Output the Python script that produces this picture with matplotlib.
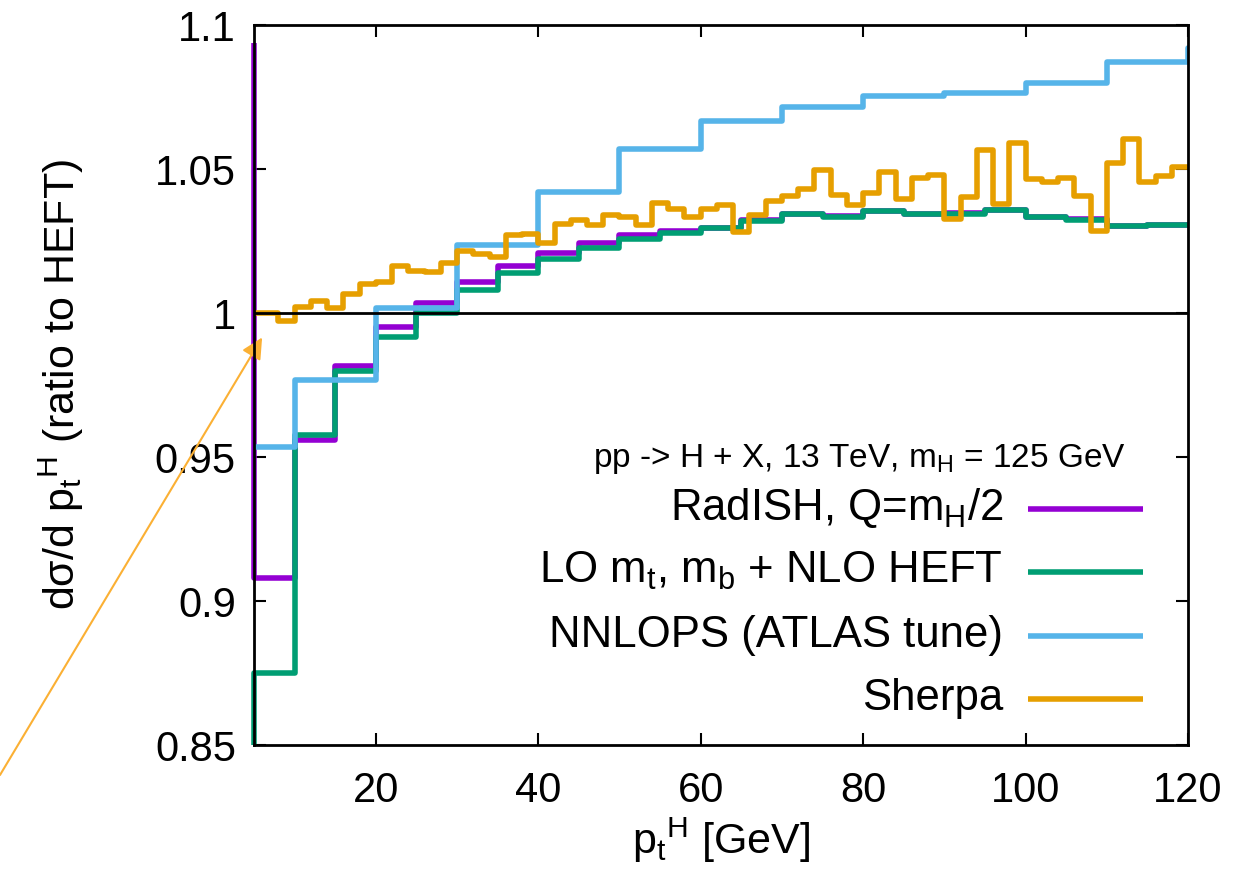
import numpy as np
import matplotlib
matplotlib.use("Agg")
import matplotlib.pyplot as plt

plt.rcParams['font.family'] = ['Liberation Sans', 'DejaVu Sans']
plt.rcParams['mathtext.fontset'] = 'custom'
plt.rcParams['mathtext.rm'] = 'Liberation Sans'
plt.rcParams['mathtext.it'] = 'Liberation Sans:italic'
plt.rcParams['mathtext.bf'] = 'Liberation Sans:bold'

# ---- data (ratio to HEFT) ----
# RadISH, 5 GeV bins from 5 to 120; radish_prev is the bin just left of the axis
radish_edges = np.arange(5, 121, 5)
radish_prev = 1.0936
radish = [0.908, 0.9559, 0.9817, 0.995, 1.0036, 1.0109, 1.0163, 1.0207,
          1.0242, 1.0271, 1.0285, 1.0296, 1.0322, 1.0345, 1.0336, 1.0354,
          1.0345, 1.0346, 1.0357, 1.0333, 1.0325, 1.0302, 1.0306]

# LO mt, mb + NLO HEFT, same binning (bin left of the axis is below the frame)
lo_edges = np.arange(5, 121, 5)
lo_prev = 0.85
lo = [0.875, 0.9576, 0.980, 0.9918, 1.000, 1.008, 1.014, 1.0188,
      1.0225, 1.0256, 1.0277, 1.0294, 1.032, 1.0343, 1.0333, 1.0353,
      1.0344, 1.0345, 1.0356, 1.0332, 1.0324, 1.0301, 1.0305]

# NNLOPS (ATLAS tune), 10 GeV bins
nnlops_edges = [5, 10, 20, 30, 40, 50, 60, 70, 80, 90, 100, 110, 120, 130]
nnlops = [0.9534, 0.9767, 1.0016, 1.0236, 1.042, 1.0568, 1.0667, 1.0714,
          1.0753, 1.0763, 1.080, 1.0873, 1.092]

# Sherpa, 2 GeV bins
sherpa_edges = np.arange(4, 121, 2)
sherpa = [1.000, 1.000, 0.9973, 1.002, 1.0043, 1.0016, 1.0065, 1.0101,
          1.0109, 1.0164, 1.0147, 1.0143, 1.0172, 1.0216, 1.0204, 1.0196,
          1.0271, 1.0274, 1.0244, 1.0309, 1.0323, 1.0306, 1.034, 1.0332,
          1.0304, 1.0381, 1.036, 1.0334, 1.036, 1.0375, 1.0282, 1.034,
          1.039, 1.0406, 1.043, 1.0497, 1.041, 1.0375, 1.0416, 1.049,
          1.0395, 1.047, 1.0479, 1.0325, 1.0402, 1.0566, 1.0378, 1.0591,
          1.0464, 1.0456, 1.047, 1.0406, 1.0286, 1.0522, 1.0603, 1.0456,
          1.0476, 1.0508]

labels = [r'RadISH, Q=$\mathregular{m_H}$/2',
          r'LO $\mathregular{m_t}$, $\mathregular{m_b}$ + NLO HEFT',
          'NNLOPS (ATLAS tune)',
          'Sherpa']
colors = ['#9400D3', '#009E73', '#56B4E9', '#E69F00']

xticks = [20, 40, 60, 80, 100, 120]
yticks = [0.85, 0.9, 0.95, 1.0, 1.05, 1.1]
ytick_labels = ['0.85', '0.9', '0.95', '1', '1.05', '1.1']


def steps(edges, vals, prev=None):
    edges = np.asarray(edges, dtype=float)
    vals = np.asarray(vals, dtype=float)
    xs = np.repeat(edges, 2)[1:-1]
    ys = np.repeat(vals, 2)
    if prev is not None:
        xs = np.r_[edges[0], xs]
        ys = np.r_[prev, ys]
    return xs, ys


fig = plt.figure(figsize=(12.6, 8.8), dpi=100)
ax = fig.add_axes([254 / 1260, 1 - 745 / 880, 934 / 1260, 720 / 880])

lw = 4
x, y = steps(radish_edges, radish, radish_prev)
ax.plot(x, y, color=colors[0], lw=lw, clip_on=False, solid_capstyle='butt', zorder=2)
x, y = steps(lo_edges, lo, lo_prev)
ax.plot(x, y, color=colors[1], lw=lw, clip_on=False, solid_capstyle='butt', zorder=3)
x, y = steps(nnlops_edges, nnlops)
ax.plot(x, y, color=colors[2], lw=lw, solid_capstyle='butt', zorder=4)
x, y = steps(sherpa_edges, sherpa)
ax.plot(x, y, color=colors[3], lw=lw, solid_capstyle='butt', zorder=5)

ax.axhline(1.0, color='black', lw=2, zorder=6)

ax.set_xlim(5, 120)
ax.set_ylim(0.85, 1.1)
ax.set_xticks(xticks)
ax.set_yticks(yticks)
ax.set_yticklabels(ytick_labels)
ax.tick_params(direction='in', top=True, right=True, length=8.5, width=1.5,
               labelsize=30)
ax.tick_params(axis='x', pad=19)
ax.tick_params(axis='y', pad=13)
for s in ax.spines.values():
    s.set_linewidth(2)
    s.set_zorder(7)

ax.set_xlabel(r'$\mathregular{p_t{}^H}$ [GeV]', fontsize=31)
ax.xaxis.set_label_coords(0.5, -0.098)
ax.set_ylabel(r'dσ/d $\mathregular{p_t{}^H}$ (ratio to HEFT)', fontsize=31)
ax.yaxis.set_label_coords(-0.18, 0.5)

# legend, gnuplot style: text right-aligned left of the sample line
ax.text(0.9336, 0.3865, r'pp -> H + X, 13 TeV, $\mathregular{m_H}$ = 125 GeV',
        transform=ax.transAxes, ha='right', va='baseline', fontsize=24)
leg_y = [0.3278, 0.2403, 0.1514, 0.0639]
for lab, col, ly in zip(labels, colors, leg_y):
    ax.text(0.802, ly - 0.0155, lab, transform=ax.transAxes, ha='right',
            va='baseline', fontsize=31.5)
    ax.plot([0.8287, 0.9518], [ly, ly], transform=ax.transAxes, color=col,
            lw=lw, solid_capstyle='butt', clip_on=False)

# arrow pointing at the start of the Sherpa curve
ax.annotate('', xy=(6.0, 0.9915), xycoords='data',
            xytext=(0.0, 1 - 775 / 880), textcoords='figure fraction',
            arrowprops=dict(arrowstyle='-|>', color='#FBB034', lw=1.5,
                            mutation_scale=32, shrinkA=0, shrinkB=0),
            annotation_clip=False)

fig.savefig('out.png', dpi=100)
